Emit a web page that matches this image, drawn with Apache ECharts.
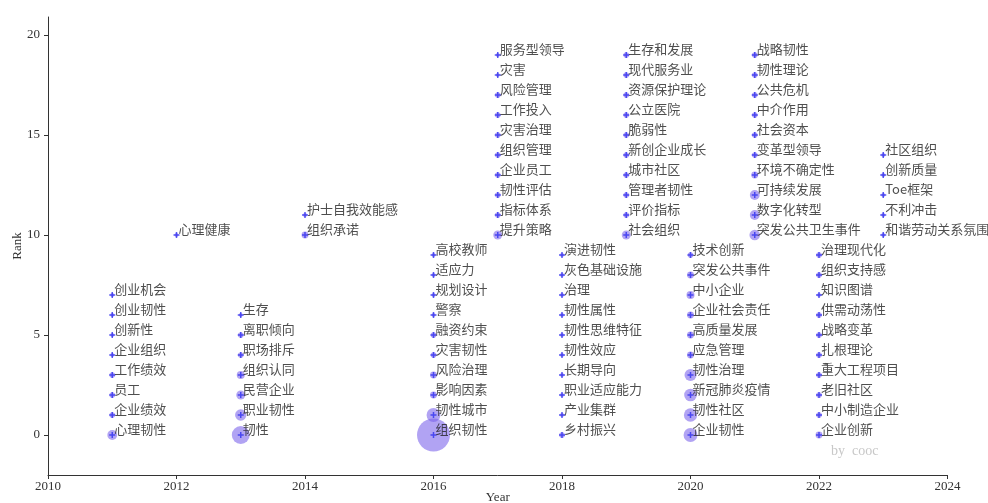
<!DOCTYPE html>
<html>
<head>
<meta charset="utf-8">
<script src="https://cdn.jsdelivr.net/npm/echarts@6/dist/echarts.min.js"></script>
<style>html,body{margin:0;padding:0;background:#fff;}#c{width:988px;height:503px;}</style>
</head>
<body>
<div id="c"></div>
<script>
// Years with keyword groups, and the rank at which each group starts
const years = [2011, 2012, 2013, 2014, 2016, 2017, 2018, 2019, 2020, 2021, 2022, 2023];
const rankStart = [0, 10, 0, 10, 0, 10, 0, 10, 0, 10, 0, 10];

// Keywords per year (rank ascending)
const kw2011 = ['心理韧性','企业绩效','员工','工作绩效','企业组织','创新性','创业韧性','创业机会'];
const kw2012 = ['心理健康'];
const kw2013 = ['韧性','职业韧性','民营企业','组织认同','职场排斥','离职倾向','生存'];
const kw2014 = ['组织承诺','护士自我效能感'];
const kw2016 = ['组织韧性','韧性城市','影响因素','风险治理','灾害韧性','融资约束','警察','规划设计','适应力','高校教师'];
const kw2017 = ['提升策略','指标体系','韧性评估','企业员工','组织管理','灾害治理','工作投入','风险管理','灾害','服务型领导'];
const kw2018 = ['乡村振兴','产业集群','职业适应能力','长期导向','韧性效应','韧性思维特征','韧性属性','治理','灰色基础设施','演进韧性'];
const kw2019 = ['社会组织','评价指标','管理者韧性','城市社区','新创企业成长','脆弱性','公立医院','资源保护理论','现代服务业','生存和发展'];
const kw2020 = ['企业韧性','韧性社区','新冠肺炎疫情','韧性治理','应急管理','高质量发展','企业社会责任','中小企业','突发公共事件','技术创新'];
const kw2021 = ['突发公共卫生事件','数字化转型','可持续发展','环境不确定性','变革型领导','社会资本','中介作用','公共危机','韧性理论','战略韧性'];
const kw2022 = ['企业创新','中小制造企业','老旧社区','重大工程项目','扎根理论','战略变革','供需动荡性','知识图谱','组织支持感','治理现代化'];
const kw2023 = ['和谐劳动关系氛围','不利冲击','Toe框架','创新质量','社区组织'];

// Estimated keyword frequencies (bubble size), same order as keywords
const cnt2011 = [6, 2, 2, 2, 1, 1, 1, 1];
const cnt2012 = [1];
const cnt2013 = [20, 8, 5, 4, 2, 2, 1];
const cnt2014 = [3, 1];
const cnt2016 = [68, 12, 3, 3, 2, 2, 1, 1, 1, 1];
const cnt2017 = [5, 2, 2, 2, 2, 2, 2, 2, 1, 1];
const cnt2018 = [2, 1, 1, 1, 1, 1, 1, 1, 1, 1];
const cnt2019 = [5, 2, 2, 2, 2, 2, 2, 2, 2, 2];
const cnt2020 = [12, 11, 10, 9, 3, 3, 3, 4, 3, 2];
const cnt2021 = [7, 6, 6, 3, 2, 2, 2, 2, 2, 2];
const cnt2022 = [3, 2, 2, 2, 2, 2, 2, 1, 2, 2];
const cnt2023 = [1, 1, 1, 1, 1];

const keywordGroups = [kw2011, kw2012, kw2013, kw2014, kw2016, kw2017, kw2018, kw2019, kw2020, kw2021, kw2022, kw2023];
const countGroups = [cnt2011, cnt2012, cnt2013, cnt2014, cnt2016, cnt2017, cnt2018, cnt2019, cnt2020, cnt2021, cnt2022, cnt2023];

const xTicks = [2010, 2012, 2014, 2016, 2018, 2020, 2022, 2024];
const yTicks = [0, 5, 10, 15, 20];

const points = [];
years.forEach((yr, i) => {
  keywordGroups[i].forEach((kw, j) => {
    points.push({ value: [yr, rankStart[i] + j, countGroups[i][j]], name: kw });
  });
});

const serif = '"Liberation Serif","DejaVu Serif",serif';
const chart = echarts.init(document.getElementById('c'), null, { renderer: 'canvas' });
chart.setOption({
  animation: false,
  backgroundColor: '#fff',
  grid: { left: 48, right: 40.5, top: 17, bottom: 28, containLabel: false, outerBoundsMode: 'none' },
  xAxis: {
    type: 'value', min: 2010, max: 2024, interval: 2,
    name: 'Year', nameLocation: 'middle', nameGap: 16, nameMoveOverlap: false,
    nameTextStyle: { fontFamily: serif, fontSize: 13, color: '#333' },
    axisLine: { onZero: false, lineStyle: { color: '#333', width: 1 } },
    axisTick: { show: true, inside: false, length: 4, lineStyle: { color: '#333' } },
    axisLabel: { fontFamily: serif, fontSize: 13, color: '#333', margin: 5, formatter: v => String(v) },
    splitLine: { show: false }
  },
  yAxis: {
    type: 'value', min: -2, max: 20.9,
    name: 'Rank', nameLocation: 'middle', nameGap: 24, nameRotate: 90, nameMoveOverlap: false,
    nameTextStyle: { fontFamily: serif, fontSize: 13, color: '#333' },
    axisLine: { show: true, onZero: false, lineStyle: { color: '#333', width: 1 } },
    axisTick: { show: true, length: 4, customValues: yTicks, lineStyle: { color: '#333' } },
    axisLabel: { fontFamily: serif, fontSize: 13, color: '#333', margin: 8, customValues: yTicks },
    splitLine: { show: false }
  },
  series: [
    {
      type: 'scatter',
      data: points,
      symbol: 'circle',
      symbolSize: d => 4 * Math.sqrt(d[2]),
      itemStyle: { color: 'rgba(120,95,235,0.72)' },
      z: 2,
      silent: true
    },
    {
      type: 'scatter',
      data: points,
      symbol: 'path://M3,0H5V3H8V5H5V8H3V5H0V3H3Z',
      symbolSize: 6,
      itemStyle: { color: '#2f2ff0' },
      label: {
        show: true,
        position: 'inside',
        align: 'left',
        verticalAlign: 'middle',
        offset: [2, -6],
        formatter: p => p.name,
        fontFamily: '"Noto Sans CJK SC", sans-serif',
        fontSize: 13,
        color: '#222'
      },
      z: 3,
      silent: true
    }
  ],
  graphic: [
    {
      type: 'text', left: 831, top: 444,
      style: { text: 'by  cooc', fontFamily: serif, fontSize: 14, fill: '#c8c8c8' }
    }
  ]
});
</script>
</body>
</html>
